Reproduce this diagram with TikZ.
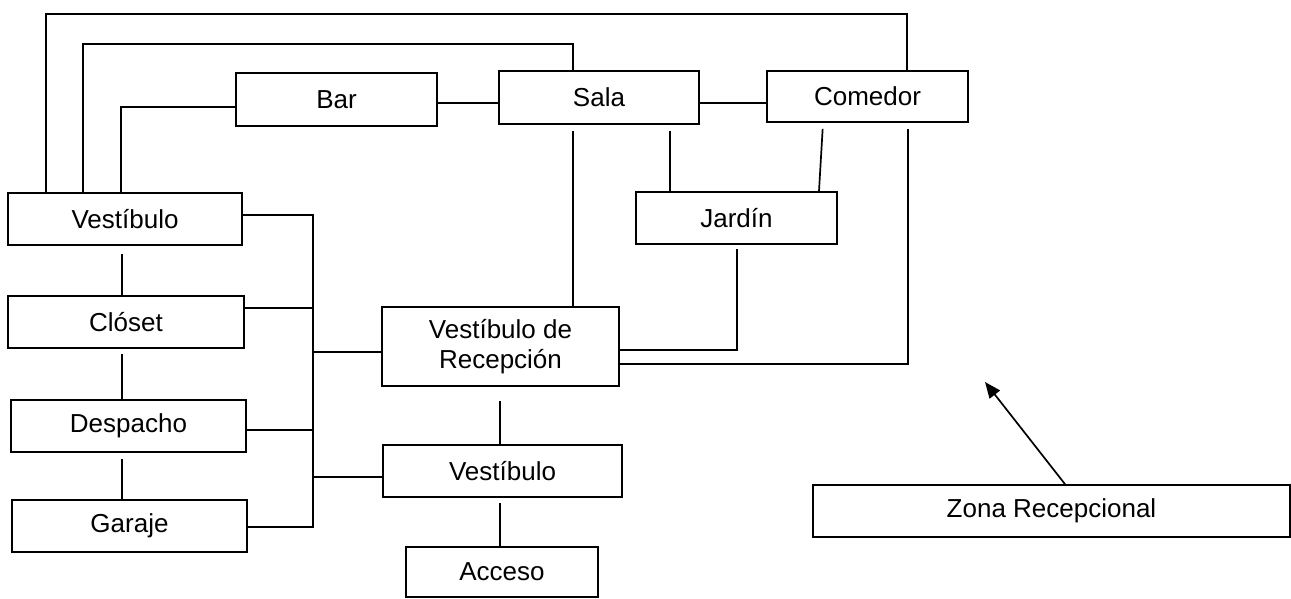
\documentclass[tikz,border=0pt]{standalone}
\usepackage{fontspec}
\setmainfont{Liberation Sans}
\usetikzlibrary{arrows.meta}
\tikzset{
  box/.style={draw, line width=1.7pt, inner sep=0pt, align=center,
    font=\fontsize{26}{30}\selectfont},
  link/.style={line width=1.7pt},
  gapstart/.style={shorten <=6pt}
}
\begin{document}
\begin{tikzpicture}[x=1pt,y=-1pt]
\fill[white] (0,0) rectangle (1291,598);
\useasboundingbox (0,0) rectangle (1291,598);
% boxes
\node[box, minimum width=201pt, minimum height=53pt] (bar)  at (336.5,99.5) {Bar};
\node[box, minimum width=200pt, minimum height=53pt] (sala) at (599,97.5) {Sala};
\node[box, minimum width=201pt, minimum height=51pt] (com)  at (867.5,96.5) {Comedor};
\node[box, minimum width=201pt, minimum height=52pt] (jar)  at (736.5,218) {Jardín};
\node[box, minimum width=234pt, minimum height=52pt] (ves1) at (125,219) {Vestíbulo};
\node[box, minimum width=236pt, minimum height=52pt] (clo)  at (126,322) {Clóset};
\node[box, minimum width=235pt, minimum height=52pt] (des)  at (128.5,426) {Despacho};
\node[box, minimum width=235pt, minimum height=52pt] (gar)  at (129.5,526) {Garaje};
\node[box, minimum width=237pt, minimum height=79pt] (vdr)  at (500.5,346.5) {Vestíbulo de\\Recepción};
\node[box, minimum width=239pt, minimum height=52pt] (ves2) at (502.5,471) {Vestíbulo};
\node[box, minimum width=192pt, minimum height=50pt] (acc)  at (502,572) {Acceso};
\node[box, minimum width=477pt, minimum height=52pt] (zona) at (1051.5,511) {Zona Recepcional};
% helper coordinates
\coordinate (t1) at (46,14);
\coordinate (t2) at (907,14);
\coordinate (u1) at (83,44);
\coordinate (u2) at (573,44);
\coordinate (v1) at (121,107);
\coordinate (h1) at (0,103);
\coordinate (s1) at (573,0);
\coordinate (j1) at (670,0);
\coordinate (c1) at (823,0);
\coordinate (c2) at (819,0);
\coordinate (k1) at (737,0);
\coordinate (k2) at (0,350);
\coordinate (m1) at (908,0);
\coordinate (m2) at (0,364);
\coordinate (b1) at (313,215);
\coordinate (b2) at (313,527);
\coordinate (b3) at (313,308);
\coordinate (b4) at (313,430);
\coordinate (b5) at (313,352);
\coordinate (b6) at (313,477);
\coordinate (lv) at (122,0);
\coordinate (cv) at (500,0);
\coordinate (tip) at (985,382);
\coordinate (tail) at (1065,0);
% top loops
\draw[link] (ves1.north -| t1) -- (t1) -- (t2) -- (com.north -| t2);
\draw[link] (ves1.north -| u1) -- (u1) -- (u2) -- (sala.north -| u2);
\draw[link] (ves1.north -| v1) -- (v1) -- (bar.west |- v1);
\draw[link] (bar.east |- h1) -- (sala.west |- h1);
\draw[link] (sala.east |- h1) -- (com.west |- h1);
% down from top row
\draw[link, gapstart] (sala.south -| s1) -- (vdr.north -| s1);
\draw[link, gapstart] (sala.south -| j1) -- (jar.north -| j1);
\draw[link, gapstart] (com.south -| c1) -- (jar.north -| c2);
\draw[link, shorten <=4pt] (jar.south -| k1) |- (vdr.east |- k2);
\draw[link, gapstart] (com.south -| m1) |- (vdr.east |- m2);
% left bus
\draw[link] (ves1.east |- b1) -- (b1) -- (b2) -- (gar.east |- b2);
\draw[link] (clo.east |- b3) -- (b3);
\draw[link] (des.east |- b4) -- (b4);
\draw[link] (b5) -- (vdr.west |- b5);
\draw[link] (b6) -- (ves2.west |- b6);
% left chain
\draw[link, shorten <=8pt] (ves1.south -| lv) -- (clo.north -| lv);
\draw[link, shorten <=5pt] (clo.south -| lv) -- (des.north -| lv);
\draw[link, shorten <=6pt] (des.south -| lv) -- (gar.north -| lv);
% centre chain
\draw[link, shorten <=14pt] (vdr.south -| cv) -- (ves2.north -| cv);
\draw[link, shorten <=5pt] (ves2.south -| cv) -- (acc.north -| cv);
% arrow
\draw[link, -{Triangle[length=16pt,width=13pt]}] (zona.north -| tail) -- (tip);
\end{tikzpicture}
\end{document}
